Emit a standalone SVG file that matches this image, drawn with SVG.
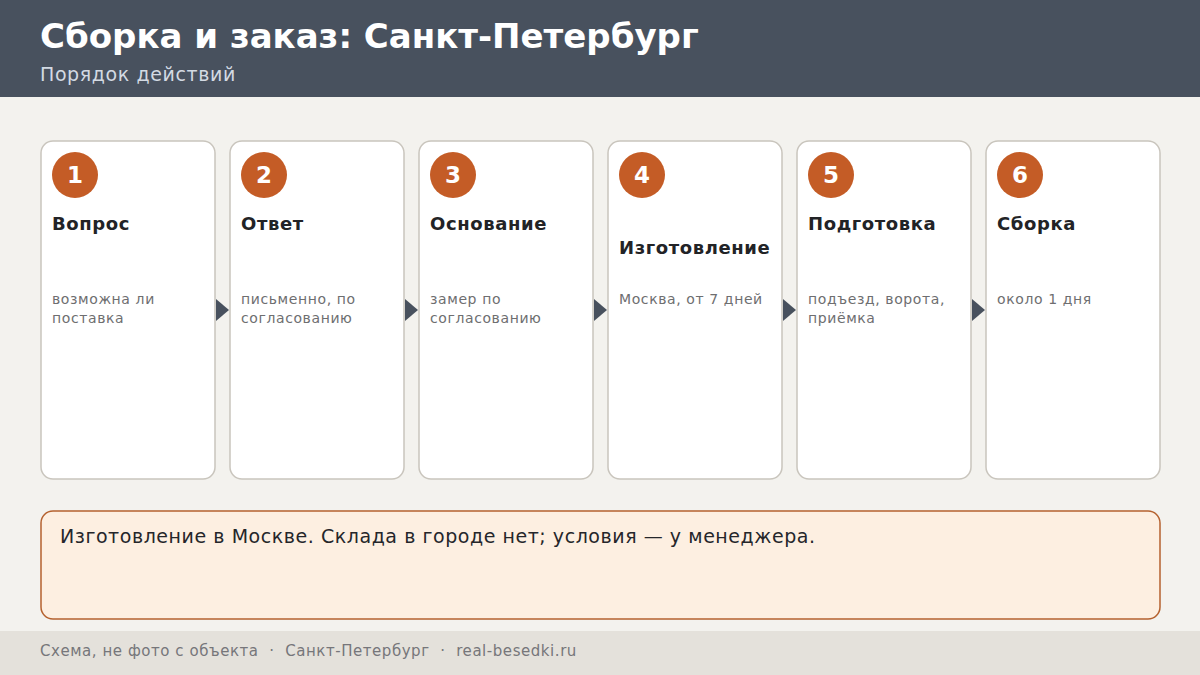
<svg xmlns="http://www.w3.org/2000/svg" width="1200" height="675" viewBox="0 0 1200 675">
<style>
text{font-family:"DejaVu Sans","Noto Sans",sans-serif}
.card{fill:#ffffff;stroke:#c9c5bd;stroke-width:1.5}
.badge{fill:#c45c26}
.num{fill:#ffffff;font-size:23px;font-weight:bold;text-anchor:middle}
.ttl{fill:#222326;font-size:18px;font-weight:bold;letter-spacing:0.6px}
.desc{fill:#6e6e70;font-size:14px;letter-spacing:0.6px}
.arr{fill:#48515e}
</style>
<rect x="0" y="0" width="1200" height="675" fill="#f3f2ee"/>
<rect x="0" y="0" width="1200" height="97" fill="#48515e"/>
<text x="40" y="48" font-size="34" font-weight="bold" fill="#ffffff">Сборка и заказ: Санкт-Петербург</text>
<text x="40" y="81" font-size="19" letter-spacing="0.6" fill="#d3dae3">Порядок действий</text>

<g id="connectors">
<polygon class="arr" points="216,299 229,310 216,321"/>
<polygon class="arr" points="405,299 418,310 405,321"/>
<polygon class="arr" points="594,299 607,310 594,321"/>
<polygon class="arr" points="783,299 796,310 783,321"/>
<polygon class="arr" points="972,299 985,310 972,321"/>
</g>

<g id="step1">
<rect class="card" x="41" y="141" width="174" height="338" rx="12"/>
<circle class="badge" cx="75" cy="175" r="23"/>
<text class="num" x="75" y="183">1</text>
<text class="ttl" x="52" y="230">Вопрос</text>
<text class="desc" x="52" y="304">возможна ли</text>
<text class="desc" x="52" y="323">поставка</text>
</g>
<g id="step2">
<rect class="card" x="230" y="141" width="174" height="338" rx="12"/>
<circle class="badge" cx="264" cy="175" r="23"/>
<text class="num" x="264" y="183">2</text>
<text class="ttl" x="241" y="230">Ответ</text>
<text class="desc" x="241" y="304">письменно, по</text>
<text class="desc" x="241" y="323">согласованию</text>
</g>
<g id="step3">
<rect class="card" x="419" y="141" width="174" height="338" rx="12"/>
<circle class="badge" cx="453" cy="175" r="23"/>
<text class="num" x="453" y="183">3</text>
<text class="ttl" x="430" y="230">Основание</text>
<text class="desc" x="430" y="304">замер по</text>
<text class="desc" x="430" y="323">согласованию</text>
</g>
<g id="step4">
<rect class="card" x="608" y="141" width="174" height="338" rx="12"/>
<circle class="badge" cx="642" cy="175" r="23"/>
<text class="num" x="642" y="183">4</text>
<text class="ttl" x="619" y="254">Изготовление</text>
<text class="desc" x="619" y="304">Москва, от 7 дней</text>
</g>
<g id="step5">
<rect class="card" x="797" y="141" width="174" height="338" rx="12"/>
<circle class="badge" cx="831" cy="175" r="23"/>
<text class="num" x="831" y="183">5</text>
<text class="ttl" x="808" y="230">Подготовка</text>
<text class="desc" x="808" y="304">подъезд, ворота,</text>
<text class="desc" x="808" y="323">приёмка</text>
</g>
<g id="step6">
<rect class="card" x="986" y="141" width="174" height="338" rx="12"/>
<circle class="badge" cx="1020" cy="175" r="23"/>
<text class="num" x="1020" y="183">6</text>
<text class="ttl" x="997" y="230">Сборка</text>
<text class="desc" x="997" y="304">около 1 дня</text>
</g>

<g id="note">
<rect x="41" y="511" width="1119" height="108" rx="12" fill="#fdefe1" stroke="#b5622f" stroke-width="1.5"/>
<text x="60" y="543" font-size="19" letter-spacing="0.55" fill="#25262a">Изготовление в Москве. Склада в городе нет; условия — у менеджера.</text>
</g>

<rect x="0" y="631" width="1200" height="44" fill="#e4e1db"/>
<text x="40" y="656" font-size="15" letter-spacing="0.55" fill="#76767a" xml:space="preserve">Схема, не фото с объекта  ·  Санкт-Петербург  ·  real-besedki.ru</text>
</svg>
